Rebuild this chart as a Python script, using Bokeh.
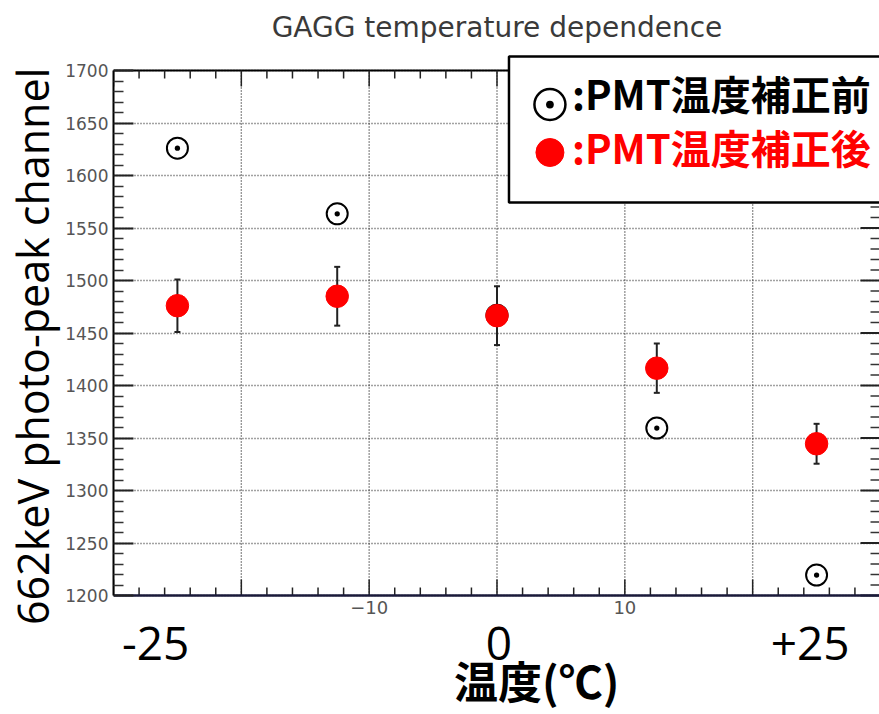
import math
from bokeh.plotting import figure
from bokeh.models import Label, LinearAxis, FixedTicker, BoxAnnotation, Range1d, Grid
from bokeh.embed import file_html
from bokeh.resources import INLINE

# ---- data ----
temps = [-25, -12.5, 0, 12.5, 25]
before_corr = [1626, 1563.5, 1467, 1359.5, 1219.5]
after_corr = [1476, 1485, 1466.5, 1416.5, 1344.5]
after_err = [25, 28, 28, 23.5, 19]

x_major = [-30, -20, -10, 0, 10, 20, 30]
x_grid = [-20, -10, 0, 10, 20]
x_minor = [-28, -26, -24, -22, -18, -16, -14, -12, -8, -6, -4, -2,
           2, 4, 6, 8, 12, 14, 16, 18, 22, 24, 26, 28]
x_tick_labels = ["\u221210", "10"]
x_tick_label_pos = [-10, 10]
y_major = [1200, 1250, 1300, 1350, 1400, 1450, 1500, 1550, 1600, 1650, 1700]
y_minor = [1210, 1220, 1230, 1240, 1260, 1270, 1280, 1290,
           1310, 1320, 1330, 1340, 1360, 1370, 1380, 1390,
           1410, 1420, 1430, 1440, 1460, 1470, 1480, 1490,
           1510, 1520, 1530, 1540, 1560, 1570, 1580, 1590,
           1610, 1620, 1630, 1640, 1660, 1670, 1680, 1690]
big_x_labels = ["-25", "0", "+25"]
big_x_pos = [-26.7, 0.15, 24.5]

title_text = "GAGG temperature dependence"
ylabel_text = "\u00a0\u00a0662keV photo-peak channel"
xlabel_text = "温度(℃)"
legend_before = ":PMT温度補正前"
legend_after = ":PMT温度補正後"

X0, X1 = -30, 30
Y0, Y1 = 1200, 1700
PX = 12.8   # px per x unit
PY = 1.05   # px per y unit

lo = [a - e for a, e in zip(after_corr, after_err)]
hi = [a + e for a, e in zip(after_corr, after_err)]

p = figure(width=879, height=714,
           x_range=Range1d(X0, X0 + 767 / PX),
           y_range=Range1d(Y0 - 119 / PY, Y1 + 70 / PY),
           min_border_left=112, min_border_right=0, min_border_top=0, min_border_bottom=0,
           toolbar_location=None, output_backend="svg", x_axis_type=None, y_axis_type=None)
p.outline_line_color = None
p.background_fill_color = "white"
p.border_fill_color = "white"

yt = FixedTicker(ticks=y_major, minor_ticks=y_minor)

# left axis (real)
yl = LinearAxis(ticker=yt, bounds=(Y0, Y1))
yl.axis_line_color = "black"
yl.axis_line_width = 2
yl.major_tick_in = 20
yl.major_tick_out = 0
yl.minor_tick_in = 10
yl.minor_tick_out = 0
yl.major_tick_line_color = "#222222"
yl.minor_tick_line_color = "#333333"
yl.major_tick_line_width = 2
yl.minor_tick_line_width = 1.5
yl.major_label_text_font = "DejaVu Sans"
yl.major_label_text_font_size = "17px"
yl.major_label_text_color = "#555555"
yl.major_label_standoff = 5
yl.axis_label = ylabel_text
yl.axis_label_text_font = "Open Sans"
yl.axis_label_text_font_size = "43px"
yl.axis_label_text_font_style = "normal"
yl.axis_label_text_color = "black"
yl.axis_label_standoff = 0
p.add_layout(yl, "left")

# horizontal grid
p.add_layout(Grid(dimension=1, ticker=yt, grid_line_color="#444444",
                  grid_line_dash="1 2", grid_line_width=1.3))
# vertical grid (limited to the data frame)
p.segment(x0=x_grid, y0=Y0, x1=x_grid, y1=Y1, line_color="#333333",
          line_dash="1 2", line_width=1.4)

# top / bottom frame lines and ticks
p.segment(x0=X0, y0=Y1, x1=X1, y1=Y1, line_color="black", line_width=2)
p.segment(x0=x_major, y0=Y1, x1=x_major, y1=Y1 - 16 / PY, line_color="#222222", line_width=1.5)
p.segment(x0=x_minor, y0=Y1, x1=x_minor, y1=Y1 - 8 / PY, line_color="#222222", line_width=1.5)
p.segment(x0=x_major, y0=Y0, x1=x_major, y1=Y0 + 16 / PY, line_color="#222222", line_width=1.5)
p.segment(x0=x_minor, y0=Y0, x1=x_minor, y1=Y0 + 8 / PY, line_color="#222222", line_width=1.5)
p.segment(x0=X1, y0=y_major, x1=X1 - 20 / PX, y1=y_major, line_color="#222222", line_width=2)
p.segment(x0=X1, y0=y_minor, x1=X1 - 10 / PX, y1=y_minor, line_color="#333333", line_width=1.5)
p.segment(x0=X0, y0=Y0, x1=X1, y1=Y0, line_color="#1a1a3a", line_width=2.5)

# data
p.scatter(temps, before_corr, marker="circle_dot", size=21, fill_alpha=0,
          line_color="black", line_width=2)
p.segment(x0=temps, y0=lo, x1=temps, y1=hi, line_color="#222222", line_width=2)
p.scatter(temps, lo, marker="dash", size=6, line_color="#222222", line_width=2)
p.scatter(temps, hi, marker="dash", size=6, line_color="#222222", line_width=2)
p.scatter(temps, after_corr, marker="circle", size=22.5, fill_color="#ff0000", line_color="#ff0000")

# small x tick labels
for t, xp in zip(x_tick_labels, x_tick_label_pos):
    p.add_layout(Label(x=xp, y=Y0 - 12 / PY, text=t, text_font="DejaVu Sans",
                       text_font_size="18px", text_color="#555555",
                       text_align="center", text_baseline="middle"))

# legend box
box = BoxAnnotation(left=X0 + 396 / PX, right=40, top=Y1 + 14 / PY, bottom=Y1 - 132 / PY,
                    fill_color="white", fill_alpha=1.0, line_color="black",
                    line_alpha=1.0, line_width=2.5)
p.add_layout(box)
r1 = p.scatter([X0 + 437 / PX], [Y1 - 34 / PY], marker="circle_dot", size=31, fill_alpha=0,
               line_color="black", line_width=2.5)
r2 = p.scatter([X0 + 437 / PX], [Y1 - 82 / PY], marker="circle", size=28,
               fill_color="#ff0000", line_color="#ff0000")
r1.level = "overlay"
r2.level = "overlay"
p.add_layout(Label(x=X0 + 459 / PX, y=Y1 - 22 / PY, text=legend_before, text_font="Noto Sans CJK JP",
                   text_font_style="bold", text_font_size="40px", text_color="black",
                   text_align="left", text_baseline="middle"))
p.add_layout(Label(x=X0 + 459 / PX, y=Y1 - 76 / PY, text=legend_after, text_font="Noto Sans CJK JP",
                   text_font_style="bold", text_font_size="40px", text_color="#ff0000",
                   text_align="left", text_baseline="middle"))

# title
p.add_layout(Label(x=0.0, y=Y1 + 43 / PY, text=title_text, text_font="DejaVu Sans",
                   text_font_size="28px", text_color="#3a3a3a",
                   text_align="center", text_baseline="middle"))
# big x labels
for t, xp in zip(big_x_labels, big_x_pos):
    p.add_layout(Label(x=xp, y=Y0 - 48 / PY, text=t, text_font="Open Sans",
                       text_font_size="46px", text_color="black",
                       text_align="center", text_baseline="middle"))
p.add_layout(Label(x=3.1, y=Y0 - 84 / PY, text=xlabel_text, text_font="Noto Sans CJK JP",
                   text_font_style="bold", text_font_size="44px", text_color="black",
                   text_align="center", text_baseline="middle"))

open("out.html", "w").write(file_html(p, INLINE))
